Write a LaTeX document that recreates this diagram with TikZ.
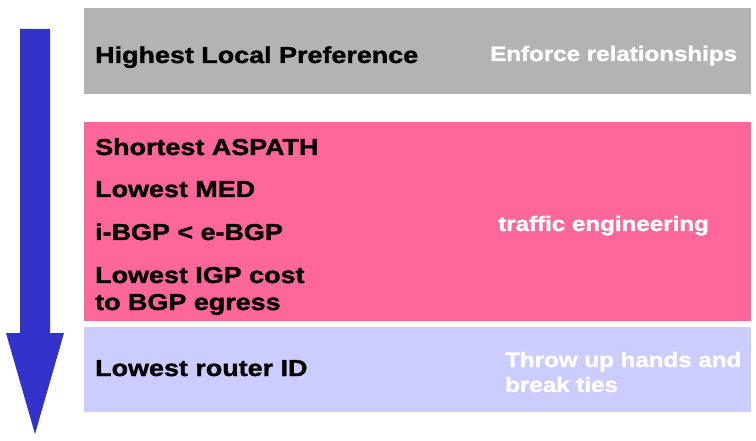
\documentclass[tikz,border=0pt]{standalone}
\usepackage{fontspec}
\setmainfont{Liberation Sans}
\newfontfamily\heavy[FakeStretch=1.17,FakeBold=1.5]{Liberation Sans Bold}
\newfontfamily\heavyw[FakeStretch=1.15,FakeBold=1.5]{Liberation Sans Bold}
\definecolor{boxgray}{HTML}{B3B3B3}
\definecolor{boxpink}{HTML}{FF6699}
\definecolor{boxlav}{HTML}{CCCCFF}
\definecolor{arrowblue}{HTML}{3333CC}
\tikzset{
  blk/.style={anchor=base west, inner sep=0pt, font=\heavy\fontsize{23}{27}\selectfont, text=black},
  wht/.style={anchor=base west, inner sep=0pt, font=\heavyw\fontsize{21}{26}\selectfont, text=white},
}
\begin{document}
\begin{tikzpicture}[x=1pt,y=-1pt]
\useasboundingbox (0,0) rectangle (756,441);
% arrow
\fill[arrowblue] (20,29) -- (50,29) -- (50,333) -- (64,333) -- (35,434) -- (6,333) -- (20,333) -- cycle;
% bands
\fill[boxgray] (84,8) rectangle (751,94);
\fill[boxpink] (84,122) rectangle (751,321);
\fill[boxlav] (84,327) rectangle (751,412);
% texts
\node[blk] (t1) at (95,63) {Highest Local Preference};
\node[wht] (w1) at (490,61) {Enforce relationships};
\node[blk] (t2) at (95,155) {Shortest ASPATH};
\node[blk] (t3) at (95,197) {Lowest MED};
\node[blk] (t4) at (95,240) {i-BGP < e-BGP};
\node[blk] (t5a) at (95,283) {Lowest IGP cost};
\node[blk] (t5b) at (95,310) {to BGP egress};
\node[wht] (w2) at (498,231) {traffic engineering};
\node[blk] (t6) at (95,376) {Lowest router ID};
\node[wht] (w3a) at (505,367) {Throw up hands and};
\node[wht] (w3b) at (505,392) {break ties};
\end{tikzpicture}
\end{document}
